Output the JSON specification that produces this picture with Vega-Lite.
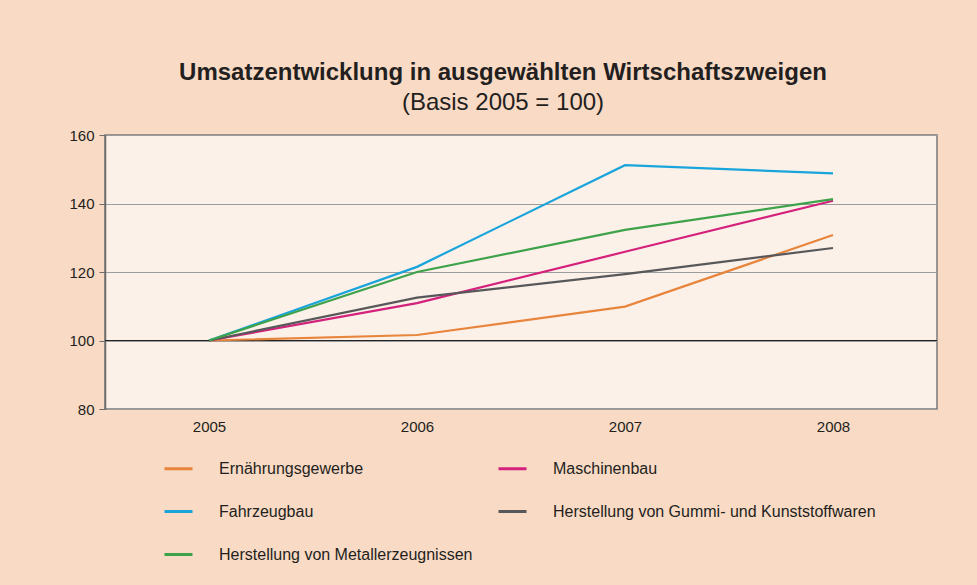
{
  "$schema": "https://vega.github.io/schema/vega-lite/v6.json",
  "autosize": {"type": "none"},
  "width": 832,
  "height": 274,
  "padding": {"left": 105, "top": 135, "right": 40, "bottom": 176},
  "background": "#f9dac5",
  "title": {
    "text": "Umsatzentwicklung in ausgewählten Wirtschaftszweigen",
    "subtitle": "(Basis 2005 = 100)",
    "anchor": "middle",
    "dx": -18,
    "offset": 13,
    "font": "Liberation Sans",
    "fontSize": 24,
    "fontWeight": "bold",
    "color": "#231f20",
    "subtitleFont": "Liberation Sans",
    "subtitleFontSize": 24,
    "subtitleColor": "#231f20",
    "subtitlePadding": 6
  },
  "config": {
    "view": {"fill": "#fcf1e9", "stroke": "#7a7a7a", "strokeWidth": 1.5},
    "font": "Liberation Sans"
  },
  "data": {
    "values": [
      {"year": "2005", "branch": "Ernährungsgewerbe", "value": 100},
      {"year": "2006", "branch": "Ernährungsgewerbe", "value": 101.6},
      {"year": "2007", "branch": "Ernährungsgewerbe", "value": 109.9},
      {"year": "2008", "branch": "Ernährungsgewerbe", "value": 130.8},
      {"year": "2005", "branch": "Maschinenbau", "value": 100},
      {"year": "2006", "branch": "Maschinenbau", "value": 110.9},
      {"year": "2007", "branch": "Maschinenbau", "value": 125.9},
      {"year": "2008", "branch": "Maschinenbau", "value": 140.8},
      {"year": "2005", "branch": "Fahrzeugbau", "value": 100},
      {"year": "2006", "branch": "Fahrzeugbau", "value": 121.5},
      {"year": "2007", "branch": "Fahrzeugbau", "value": 151.2},
      {"year": "2008", "branch": "Fahrzeugbau", "value": 148.8},
      {"year": "2005", "branch": "Herstellung von Gummi- und Kunststoffwaren", "value": 100},
      {"year": "2006", "branch": "Herstellung von Gummi- und Kunststoffwaren", "value": 112.5},
      {"year": "2007", "branch": "Herstellung von Gummi- und Kunststoffwaren", "value": 119.4},
      {"year": "2008", "branch": "Herstellung von Gummi- und Kunststoffwaren", "value": 127},
      {"year": "2005", "branch": "Herstellung von Metallerzeugnissen", "value": 100},
      {"year": "2006", "branch": "Herstellung von Metallerzeugnissen", "value": 120},
      {"year": "2007", "branch": "Herstellung von Metallerzeugnissen", "value": 132.3},
      {"year": "2008", "branch": "Herstellung von Metallerzeugnissen", "value": 141.3}
    ]
  },
  "layer": [
    {
      "mark": {"type": "rule", "color": "#222222", "strokeWidth": 1.2},
      "encoding": {"y": {"datum": 100, "type": "quantitative"}}
    },
    {
      "mark": {"type": "line", "strokeWidth": 2.2},
      "encoding": {
        "x": {
          "field": "year",
          "type": "ordinal",
          "scale": {"type": "point", "padding": 0.5},
          "axis": {
            "title": null,
            "labelAngle": 0,
            "ticks": false,
            "domain": false,
            "labelFontSize": 15,
            "labelColor": "#231f20",
            "labelPadding": 10
          }
        },
        "y": {
          "field": "value",
          "type": "quantitative",
          "scale": {"domain": [80, 160], "nice": false, "zero": false},
          "axis": {
            "title": null,
            "values": [80, 100, 120, 140, 160],
            "grid": true,
            "gridColor": "#9c9c9c",
            "gridWidth": 1,
            "domainColor": "#6a6a6a",
            "domainWidth": 1.5,
            "tickColor": "#6a6a6a",
            "tickSize": 6,
            "labelFontSize": 15,
            "labelColor": "#231f20",
            "labelPadding": 5
          }
        },
        "color": {
          "field": "branch",
          "type": "nominal",
          "scale": {
            "domain": ["Ernährungsgewerbe", "Fahrzeugbau", "Herstellung von Metallerzeugnissen", "Maschinenbau", "Herstellung von Gummi- und Kunststoffwaren"],
            "range": ["#e8853d", "#19a4dc", "#3da24a", "#d4217c", "#58585a"]
          },
          "legend": {
            "title": null,
            "orient": "none",
            "legendX": 58,
            "legendY": 318,
            "columns": 2,
            "direction": "vertical",
            "symbolType": "stroke",
            "symbolSize": 784,
            "symbolStrokeWidth": 3,
            "labelFontSize": 16,
            "labelColor": "#231f20",
            "labelOffset": 25,
            "rowPadding": 19,
            "columnPadding": 19,
            "labelLimit": 400
          }
        }
      }
    }
  ]
}
